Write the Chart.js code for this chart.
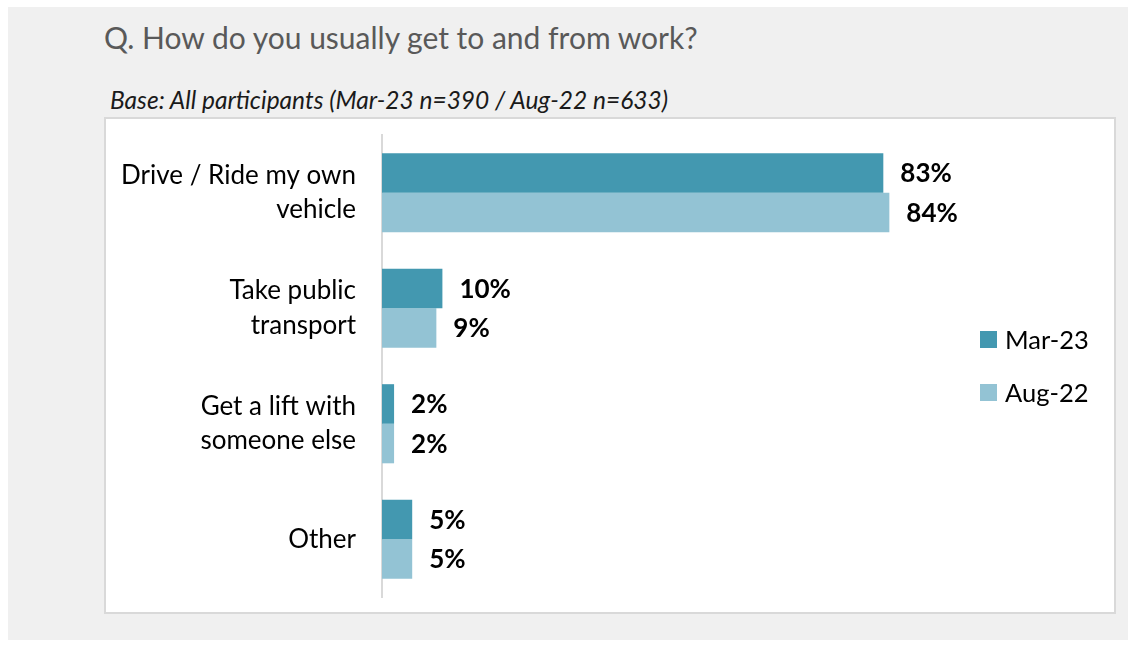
<!DOCTYPE html>
<html lang="en">
<head>
  <meta charset="UTF-8" />
  <title>Commute to work</title>
  <script src="https://cdn.jsdelivr.net/npm/chart.js"></script>
  <style>
    body { margin: 0; background: #fff; font-family: Lato, sans-serif; }
    .panel { position: absolute; left: 8px; top: 7px; width: 1120px; height: 633px; background: #f0f0f0; }
    .title { position: absolute; left: 104px; top: 22px; font-size: 30px; line-height: 1; color: #595959; white-space: nowrap; }
    .base { position: absolute; left: 110px; top: 88px; font-size: 24.5px; line-height: 1; font-style: italic; color: #1a1a1a; white-space: nowrap; }
    .box { position: absolute; left: 104px; top: 117px; width: 1008px; height: 493px; background: #fff; border: 2px solid #d9d9d9; }
  </style>
</head>
<body>
  <div class="panel"></div>
  <div class="title">Q. How do you usually get to and from work?</div>
  <div class="base">Base: All participants (Mar-23 n=390 / Aug-22 n=633)</div>
  <div class="box"><canvas id="commuteChart" width="1008" height="493"></canvas></div>

  <script>
    const categories = [
      ['Drive / Ride my own', 'vehicle'],
      ['Take public', 'transport'],
      ['Get a lift with', 'someone else'],
      'Other'
    ];
    const seriesNames = ['Mar-23', 'Aug-22'];
    const mar23 = [83, 10, 2, 5];
    const aug22 = [84, 9, 2, 5];
    const colors = ['#4398b0', '#93c3d4'];

    // value labels after each bar
    const valueLabels = {
      id: 'valueLabels',
      afterDatasetsDraw(chart) {
        const ctx = chart.ctx;
        ctx.save();
        ctx.font = 'bold 26px Lato, sans-serif';
        ctx.fillStyle = '#000';
        ctx.textBaseline = 'middle';
        chart.data.datasets.forEach((ds, i) => {
          chart.getDatasetMeta(i).data.forEach((bar, j) => {
            ctx.fillText(ds.data[j] + '%', bar.x + 17, bar.y + 1);
          });
        });
        ctx.restore();
      }
    };

    // legend drawn on the right, squares + names
    const sideLegend = {
      id: 'sideLegend',
      afterDraw(chart) {
        const ctx = chart.ctx;
        ctx.save();
        ctx.font = '25.5px Lato, sans-serif';
        ctx.textBaseline = 'middle';
        chart.data.datasets.forEach((ds, i) => {
          const y = 220.5 + i * 53;
          ctx.fillStyle = ds.backgroundColor;
          ctx.fillRect(874, y - 8.5, 17, 17);
          ctx.fillStyle = '#000';
          ctx.fillText(ds.label, 899, y + 1);
        });
        ctx.restore();
      }
    };

    new Chart(document.getElementById('commuteChart'), {
      type: 'bar',
      data: {
        labels: categories,
        datasets: [
          { label: seriesNames[0], data: mar23, backgroundColor: colors[0] },
          { label: seriesNames[1], data: aug22, backgroundColor: colors[1] }
        ]
      },
      options: {
        indexAxis: 'y',
        responsive: false,
        animation: false,
        layout: { padding: { top: 16, bottom: 15, right: 128, left: 0 } },
        datasets: { bar: { categoryPercentage: 0.685, barPercentage: 1.0 } },
        plugins: { legend: { display: false }, tooltip: { enabled: false } },
        scales: {
          x: { min: 0, max: 100, display: false },
          y: {
            grid: { display: false, drawTicks: false },
            border: { color: '#d9d9d9', width: 2 },
            ticks: {
              padding: 26,
              color: '#000',
              font: { family: 'Lato', size: 26, lineHeight: 1.32 }
            },
            afterFit(scale) {
              scale.width = 276;
              scale.paddingTop = 0;
              scale.paddingBottom = 0;
            }
          }
        }
      },
      plugins: [valueLabels, sideLegend]
    });
  </script>
</body>
</html>
